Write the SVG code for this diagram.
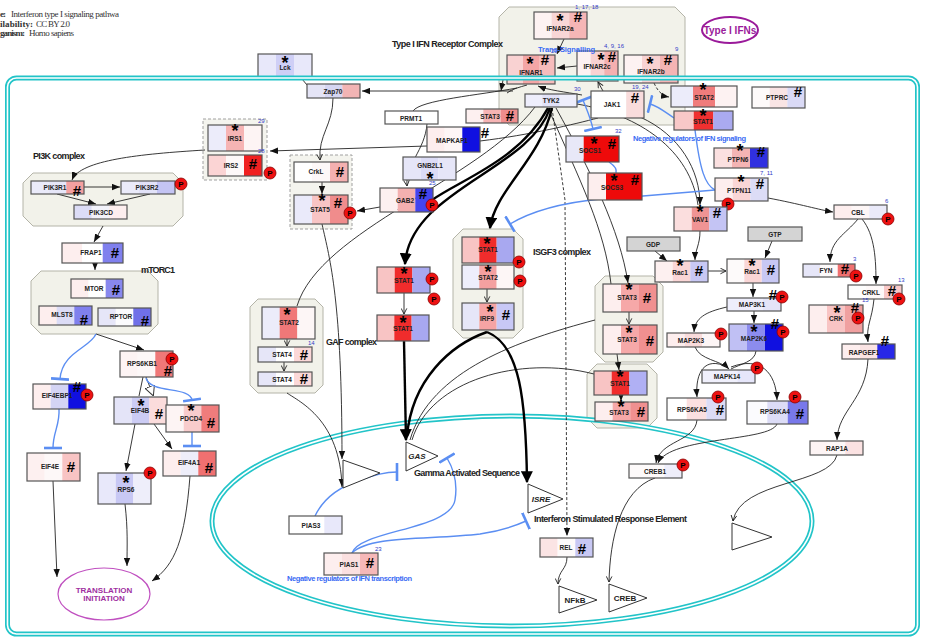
<svg xmlns="http://www.w3.org/2000/svg" width="925" height="637" viewBox="0 0 925 637">
<style>
.bx{fill:none;stroke:#555;stroke-width:1.2}
.lb{font:bold 6.5px "Liberation Sans",Arial,sans-serif;fill:#222;text-anchor:middle}
.st{font:bold 18px "Liberation Sans",Arial,sans-serif;fill:#000;text-anchor:middle}
.hs{font:bold 15px "Liberation Sans",Arial,sans-serif;fill:#000;text-anchor:middle}
.pc{fill:#ee1111;stroke:#880000;stroke-width:.8}
.pt{font:bold 8px "Liberation Sans",Arial,sans-serif;fill:#000;text-anchor:middle}
.nm{font:6px "Liberation Sans",Arial,sans-serif;fill:#3340c8}
.cx{fill:#f2f2ea;stroke:#b4b4a8;stroke-width:1}
.dg{fill:#f4f4ee;stroke:#a0a0a0;stroke-width:1;stroke-dasharray:3 2}
.ln{fill:none;stroke:#222;stroke-width:.9}
.dl{fill:none;stroke:#222;stroke-width:.9;stroke-dasharray:3 2}
.tk{fill:none;stroke:#000;stroke-width:2.4}
.bl{fill:none;stroke:#5b8ef2;stroke-width:1.4}
.mb{fill:none;stroke:#22c4c8;stroke-width:5}
.mw{fill:none;stroke:#fff;stroke-width:1.6}
.gl{font:bold 9px "Liberation Sans",Arial,sans-serif;fill:#222}
.bt{font:bold 7.5px "Liberation Sans",Arial,sans-serif;fill:#3a6cf4}
.hd{font:9px "Liberation Serif","Times New Roman",serif;fill:#333}
.hb{font:bold 9px "Liberation Serif","Times New Roman",serif;fill:#333}
.tri{fill:#fff;stroke:#333;stroke-width:1}
.tt{font:italic bold 8px "Liberation Sans",Arial,sans-serif;fill:#222;text-anchor:middle}
</style>
<defs>
<marker id="a" viewBox="0 0 10 8" refX="10" refY="4" markerWidth="8" markerHeight="7" orient="auto" markerUnits="userSpaceOnUse"><path d="M0,0 L10,4 L0,8z" fill="#111"/></marker>
<marker id="o" viewBox="0 0 10 10" refX="9" refY="5" markerWidth="7" markerHeight="7" orient="auto" markerUnits="userSpaceOnUse"><path d="M1,1 L9,5 L1,9" fill="none" stroke="#222" stroke-width="1.3"/></marker>
<marker id="A" viewBox="0 0 10 10" refX="9" refY="5" markerWidth="12" markerHeight="12" orient="auto" markerUnits="userSpaceOnUse"><path d="M0,0 L10,5 L0,10z" fill="#000"/></marker>
<marker id="h" viewBox="0 0 10 10" refX="9" refY="5" markerWidth="10" markerHeight="10" orient="auto" markerUnits="userSpaceOnUse"><path d="M0,0 L10,5 L0,10z" fill="#fff" stroke="#333" stroke-width="1"/></marker>
<marker id="t" viewBox="0 0 4 18" refX="2" refY="9" markerWidth="4" markerHeight="18" orient="auto" markerUnits="userSpaceOnUse"><path d="M2,0 V18" stroke="#5b8ef2" stroke-width="2.6"/></marker>
</defs>
<rect width="925" height="637" fill="#fff"/>

<g id="header">
<text class="hb" x="0" y="17" textLength="6">e:</text><text class="hd" x="11" y="17" textLength="108">Interferon type I signaling pathwa</text>
<text class="hb" x="0" y="27" textLength="33">ilability:</text><text class="hd" x="36" y="27" textLength="34">CC BY 2.0</text>
<text class="hb" x="0" y="36" textLength="25">ganism:</text><text class="hd" x="29" y="36" textLength="45">Homo sapiens</text>
</g>

<g id="complexes">
<polygon id="receptor-complex" class="cx" points="509,7 675,7 685,17 685,115 675,125 509,125 499,115 499,17"/>
<polygon id="pi3k-complex" class="cx" points="33,173 173,173 183,183 183,216 173,226 33,226 23,216 23,183"/>
<polygon id="mtorc1-complex" class="cx" points="41,271 148,271 158,281 158,324 148,334 41,334 31,324 31,281"/>
<polygon id="gaf-complex" class="cx" points="258,299 315,299 323,307 323,385 315,393 258,393 250,385 250,307"/>
<polygon id="isgf3-complex" class="cx" points="463,229 513,229 523,239 523,328 513,338 463,338 453,328 453,239"/>
<polygon id="stat3-complex" class="cx" points="605,276 653,276 663,286 663,352 653,362 605,362 595,352 595,286"/>
<polygon id="stat13-complex" class="cx" points="597,364 647,364 657,374 657,418 647,428 597,428 587,418 587,374"/>
<rect id="irs-group" class="dg" x="203" y="119" width="64" height="61"/>
<rect id="crkl-group" class="dg" x="290" y="155" width="62" height="74"/>
</g>

<g id="nucleus">
<ellipse class="mb" cx="512" cy="521" rx="300" ry="105"/>
<ellipse class="mw" cx="512" cy="521" rx="300" ry="105"/>
</g>

<g id="connectors">
<path class="ln" d="M302,79 L307,85"/>
<path class="ln" d="M513,91 L362,91" marker-end="url(#a)"/>
<path class="ln" d="M333,98 C333,125 318,135 320,160" marker-end="url(#o)"/>
<path class="ln" d="M322,182 L322,194" marker-end="url(#a)"/>
<path class="ln" d="M380,207 L357,211" marker-end="url(#a)"/>
<path class="ln" d="M427,146 L270,151" marker-end="url(#a)"/>
<path class="ln" d="M480,141 C530,135 575,124 598,118"/>
<path class="ln" d="M205,150 C140,154 80,160 72,180" marker-end="url(#a)"/>
<path class="ln" d="M84,187 L120,187" marker-end="url(#a)"/>
<path class="ln" d="M57,194 L96,204" marker-end="url(#a)"/>
<path class="ln" d="M150,194 L107,204" marker-end="url(#a)"/>
<path class="ln" d="M103,226 L94,242" marker-end="url(#a)"/>
<path class="ln" d="M95,263 L95,270" marker-end="url(#a)"/>
<path class="ln" d="M96,334 L144,350" marker-end="url(#a)"/>
<path class="ln" d="M143,377 L139,396"/>
<path class="ln" d="M146,377 L153,395" marker-end="url(#h)"/>
<path class="ln" d="M135,424 L126,471" marker-end="url(#a)"/>
<path class="ln" d="M154,424 L172,449" marker-end="url(#a)"/>
<path class="ln" d="M53,481 L57,577" marker-end="url(#a)"/>
<path class="ln" d="M125,504 C128,530 127,545 127,566" marker-end="url(#a)"/>
<path class="ln" d="M190,476 C185,540 175,565 152,581" marker-end="url(#a)"/>
<path class="ln" d="M582,95 C565,92 548,90 538,86" marker-end="url(#a)"/>
<path class="ln" d="M507,93 C512,89 520,87 527,85"/>
<path class="dl" d="M503,80 L501,91" marker-end="url(#a)"/>
<path class="ln" d="M577,66 L557,68" marker-end="url(#a)"/>
<path class="ln" d="M564,39 L557,54" marker-end="url(#a)"/>
<path class="ln" d="M603,91 L598,82" marker-end="url(#o)"/>
<path class="dl" d="M654,83 C658,92 663,96 669,97" marker-end="url(#a)"/>
<path class="ln" d="M517,88 C480,95 420,100 413,111"/>
<path class="ln" d="M427,124 C425,150 405,165 407,186" marker-end="url(#o)"/>
<path class="ln" d="M640,117 C680,135 700,170 700,205" marker-end="url(#a)"/>
<path class="ln" d="M577,104 C640,115 690,150 698,205"/>
<path class="ln" d="M768,198 C800,204 820,210 833,212" marker-end="url(#a)"/>
<path class="ln" d="M858,219 C845,235 830,240 830,262" marker-end="url(#a)"/>
<path class="ln" d="M862,219 C875,235 876,260 876,284" marker-end="url(#a)"/>
<path class="ln" d="M874,299 C872,320 866,325 868,342" marker-end="url(#a)"/>
<path class="ln" d="M868,359 C866,400 838,410 837,440" marker-end="url(#a)"/>
<path class="ln" d="M837,455 C830,485 740,480 733,521" marker-end="url(#o)"/>
<path class="ln" d="M700,231 C700,245 695,250 695,260" marker-end="url(#a)"/>
<path class="ln" d="M655,251 L667,261" marker-end="url(#a)"/>
<path class="ln" d="M772,241 L765,258" marker-end="url(#a)"/>
<path class="ln" d="M708,271 L726,271" marker-end="url(#o)"/>
<path class="ln" d="M753,283 L753,297" marker-end="url(#a)"/>
<path class="ln" d="M727,307 C705,312 695,318 694,332" marker-end="url(#a)"/>
<path class="ln" d="M754,311 L754,323" marker-end="url(#a)"/>
<path class="ln" d="M695,347 C700,360 720,360 729,369" marker-end="url(#a)"/>
<path class="ln" d="M756,351 C755,362 740,364 731,369"/>
<path class="ln" d="M727,367 C705,356 695,372 697,397" marker-end="url(#a)"/>
<path class="ln" d="M731,367 C760,356 776,372 777,400" marker-end="url(#a)"/>
<path class="ln" d="M697,420 C695,442 660,440 656,463" marker-end="url(#a)"/>
<path class="ln" d="M777,424 C770,442 670,436 658,463" marker-end="url(#a)"/>
<path class="ln" d="M655,478 C620,490 610,540 609,582" marker-end="url(#o)"/>
<path class="ln" d="M567,557 C567,570 558,570 558,584" marker-end="url(#o)"/>
<path class="dl" d="M552,108 L565,200 L567,536" marker-end="url(#a)"/>
<path class="ln" d="M404,293 L404,314" marker-end="url(#o)"/>
<path class="ln" d="M487,289 L487,302" marker-end="url(#o)"/>
<path class="ln" d="M287,339 L287,346" marker-end="url(#o)"/>
<path class="ln" d="M284,362 L284,371" marker-end="url(#o)"/>
<path class="ln" d="M629,312 L629,324" marker-end="url(#o)"/>
<path class="ln" d="M617,354 L619,370" marker-end="url(#a)"/>
<path class="ln" d="M621,395 L621,401" marker-end="url(#a)"/>
<path class="ln" d="M556,108 C590,170 620,230 628,283" marker-end="url(#a)"/>
<path class="ln" d="M548,108 C580,180 605,230 611,284"/>
<path class="ln" d="M595,320 C520,340 430,370 410,440"/>
<path class="ln" d="M594,374 C520,355 430,380 412,440"/>
<path class="ln" d="M535,107 C480,180 320,230 297,306"/>
<path class="ln" d="M322,224 C330,260 342,300 342,459" marker-end="url(#a)"/>
<path class="ln" d="M287,393 C300,402 340,420 342,487" marker-end="url(#a)"/>
<path class="tk" d="M404,341 L406,440" marker-end="url(#A)"/>
<path class="tk" d="M487,332 C450,345 412,380 407,436"/>
<path class="tk" d="M487,332 C520,345 526,400 527,482" marker-end="url(#A)"/>
<path class="tk" d="M550,108 C530,170 410,190 405,264" marker-end="url(#A)"/>
<path class="tk" d="M552,108 C540,160 495,190 490,228" marker-end="url(#A)"/>
<path class="tk" d="M548,108 C520,160 460,180 432,200"/>
<path class="bl" d="M96,334 C90,348 62,352 60,379" marker-end="url(#t)"/>
<path class="bl" d="M59,409 C60,425 53,432 53,448" marker-end="url(#t)"/>
<path class="bl" d="M146,378 C150,394 190,386 192,400" marker-end="url(#t)"/>
<path class="bl" d="M192,432 L192,446" marker-end="url(#t)"/>
<path class="bl" d="M674,118 C665,112 658,106 650,104" marker-end="url(#t)"/>
<path class="bl" d="M593,129 C590,116 586,108 583,100" marker-start="url(#t)" marker-end="url(#t)"/>
<path class="bl" d="M609,162 C615,166 617,170 616,173"/>
<path class="bl" d="M695,130 C700,170 705,185 715,190"/>
<path class="bl" d="M715,190 L643,196 L600,199 C560,203 530,212 510,224" marker-end="url(#t)"/>
<path class="bl" d="M315,516 C325,495 345,485 360,480 C375,475 385,472 397,472" marker-end="url(#t)"/>
<path class="bl" d="M352,553 C360,530 450,530 455,500 C458,482 453,468 447,458" marker-end="url(#t)"/>
<path class="bl" d="M352,553 C370,535 430,540 480,534 C500,531 515,526 526,521" marker-end="url(#t)"/>
</g>

<g id="nodes">
<g id="Lck"><rect x="258" y="54" width="18" height="25" fill="#e8e8fa"/><rect x="276" y="54" width="18" height="25" fill="#cfcff6"/><rect x="294" y="54" width="18" height="25" fill="#e8e8fa"/><rect class="bx" x="258" y="54" width="54" height="25"/><text class="lb" x="285" y="70">Lck</text><text class="st" x="285" y="69">*</text></g>
<g id="Zap70"><rect x="307" y="84" width="17.7" height="14" fill="#e4e4f6"/><rect x="324.7" y="84" width="17.7" height="14" fill="#d6d6f2"/><rect x="342.3" y="84" width="17.7" height="14" fill="#f2b4b4"/><rect class="bx" x="307" y="84" width="53" height="14"/><text class="lb" x="333" y="93.5">Zap70</text></g>
<g id="IFNAR2a"><rect x="534" y="12" width="17.7" height="27" fill="#fdf2f2"/><rect x="551.7" y="12" width="17.7" height="27" fill="#f9d6d6"/><rect x="569.3" y="12" width="17.7" height="27" fill="#f6b6b6"/><rect class="bx" x="534" y="12" width="53" height="27"/><text class="lb" x="560" y="31">IFNAR2a</text><text class="st" x="560" y="27">*</text><text class="hs" x="578" y="22">#</text><text class="nm" x="575" y="9">1, 17, 18</text></g>
<g id="IFNAR1"><rect x="507" y="55" width="16" height="29" fill="#f9d2d2"/><rect x="523" y="55" width="16" height="29" fill="#f4a6a6"/><rect x="539" y="55" width="16" height="29" fill="#f6bcbc"/><rect class="bx" x="507" y="55" width="48" height="29"/><text class="lb" x="531" y="75">IFNAR1</text><text class="st" x="530" y="70">*</text><text class="hs" x="545" y="65">#</text><text class="nm" x="551" y="53">20</text></g>
<g id="IFNAR2c"><rect x="577" y="51" width="13.7" height="30" fill="#fdf2f2"/><rect x="590.7" y="51" width="13.7" height="30" fill="#f8d2d2"/><rect x="604.3" y="51" width="13.7" height="30" fill="#f4b0b0"/><rect class="bx" x="577" y="51" width="41" height="30"/><text class="lb" x="597" y="69">IFNAR2c</text><text class="st" x="601" y="66">*</text><text class="hs" x="612" y="62">#</text><text class="nm" x="604" y="48">4, 9, 16</text></g>
<g id="IFNAR2b"><rect x="624" y="55" width="18" height="28" fill="#fdf2f2"/><rect x="642" y="55" width="18" height="28" fill="#f8d2d2"/><rect x="660" y="55" width="18" height="28" fill="#f4b4b4"/><rect class="bx" x="624" y="55" width="54" height="28"/><text class="lb" x="651" y="74">IFNAR2b</text><text class="st" x="650" y="70">*</text><text class="hs" x="668" y="65">#</text><text class="nm" x="675" y="51">9</text></g>
<g id="TYK2"><rect x="525" y="94" width="17.3" height="13" fill="#eeeefc"/><rect x="542.3" y="94" width="17.3" height="13" fill="#e2e2f8"/><rect x="559.7" y="94" width="17.3" height="13" fill="#eeeefc"/><rect class="bx" x="525" y="94" width="52" height="13"/><text class="lb" x="551" y="103">TYK2</text><text class="nm" x="574" y="91">30</text></g>
<g id="JAK1"><rect x="591" y="91" width="35.3" height="27" fill="#fff"/><rect x="626.3" y="91" width="17.7" height="27" fill="#f9dcdc"/><rect class="bx" x="591" y="91" width="53" height="27"/><text class="lb" x="612" y="107">JAK1</text><text class="hs" x="635" y="103">#</text><text class="nm" x="632" y="89">19, 24</text></g>
<g id="STAT2-tr"><rect x="671" y="86" width="22" height="21" fill="#ececfa"/><rect x="693" y="86" width="22" height="21" fill="#f07c7c"/><rect x="715" y="86" width="22" height="21" fill="#fdf2f2"/><rect class="bx" x="671" y="86" width="66" height="21"/><text class="lb" x="704" y="100">STAT2</text><text class="st" x="703" y="96">*</text></g>
<g id="STAT1-tr"><rect x="674" y="111" width="19.7" height="19" fill="#f8c8c8"/><rect x="693.7" y="111" width="19.7" height="19" fill="#f03030"/><rect x="713.3" y="111" width="19.7" height="19" fill="#aaaaf0"/><rect class="bx" x="674" y="111" width="59" height="19"/><text class="lb" x="703" y="124">STAT1</text><text class="st" x="703" y="122">*</text></g>
<g id="PTPRC"><rect x="752" y="87" width="17.7" height="21" fill="#fdfafa"/><rect x="769.7" y="87" width="17.7" height="21" fill="#f9e4e4"/><rect x="787.3" y="87" width="17.7" height="21" fill="#dadaf6"/><rect class="bx" x="752" y="87" width="53" height="21"/><text class="lb" x="777" y="100">PTPRC</text><text class="hs" x="798" y="97">#</text></g>
<g id="PRMT1"><rect x="385" y="111" width="53" height="13" fill="#fff"/><rect class="bx" x="385" y="111" width="53" height="13"/><text class="lb" x="411" y="120.5">PRMT1</text></g>
<g id="STAT3-top"><rect x="466" y="109" width="17.3" height="14" fill="#fdf0f0"/><rect x="483.3" y="109" width="17.3" height="14" fill="#f6b4b4"/><rect x="500.7" y="109" width="17.3" height="14" fill="#f08c8c"/><rect class="bx" x="466" y="109" width="52" height="14"/><text class="lb" x="490" y="119">STAT3</text><text class="hs" x="510" y="121">#</text></g>
<g id="MAPKAP1"><rect x="427" y="127" width="17.7" height="25" fill="#fdeeee"/><rect x="444.7" y="127" width="17.7" height="25" fill="#fdf6f6"/><rect x="462.3" y="127" width="17.7" height="25" fill="#1010e0"/><rect class="bx" x="427" y="127" width="53" height="25"/><text class="lb" x="452" y="143">MAPKAP1</text><text class="hs" x="485" y="138">#</text></g>
<g id="GNB2L1"><rect x="403" y="157" width="17.7" height="23" fill="#e6e6f8"/><rect x="420.7" y="157" width="17.7" height="23" fill="#dcdcf6"/><rect x="438.3" y="157" width="17.7" height="23" fill="#e6e6f8"/><rect class="bx" x="403" y="157" width="53" height="23"/><text class="lb" x="430" y="168">GNB2L1</text><text class="st" x="430" y="185">*</text></g>
<g id="GAB2"><rect x="380" y="188" width="17.7" height="24" fill="#fdf0f0"/><rect x="397.7" y="188" width="17.7" height="24" fill="#f4b0b0"/><rect x="415.3" y="188" width="17.7" height="24" fill="#4444ee"/><rect class="bx" x="380" y="188" width="53" height="24"/><text class="lb" x="405" y="203">GAB2</text><text class="hs" x="423" y="199">#</text><text class="nm" x="429" y="185">25</text><circle class="pc" cx="432" cy="205" r="6"/><text class="pt" x="432" y="208">P</text></g>
<g id="SOCS1"><rect x="566" y="136" width="17.7" height="26" fill="#e8e8f8"/><rect x="583.7" y="136" width="35.3" height="26" fill="#ee0a0a"/><rect class="bx" x="566" y="136" width="53" height="26"/><text class="lb" x="590" y="153">SOCS1</text><text class="st" x="594" y="150">*</text><text class="hs" x="612" y="149">#</text><text class="nm" x="615" y="133">32</text></g>
<g id="SOCS3"><rect x="588" y="173" width="18" height="27" fill="#fdeeee"/><rect x="606" y="173" width="36" height="27" fill="#ee0a0a"/><rect class="bx" x="588" y="173" width="54" height="27"/><text class="lb" x="612" y="190">SOCS3</text><text class="st" x="614" y="187">*</text><text class="hs" x="635" y="185">#</text></g>
<g id="PTPN6"><rect x="714" y="148" width="18" height="20" fill="#fbe0e0"/><rect x="732" y="148" width="18" height="20" fill="#f4b4b4"/><rect x="750" y="148" width="18" height="20" fill="#3030e0"/><rect class="bx" x="714" y="148" width="54" height="20"/><text class="lb" x="738" y="162">PTPN6</text><text class="st" x="740" y="157">*</text><text class="hs" x="761" y="157">#</text></g>
<g id="PTPN11"><rect x="715" y="178" width="17.7" height="23" fill="#fdeeee"/><rect x="732.7" y="178" width="17.7" height="23" fill="#f9d6d6"/><rect x="750.3" y="178" width="17.7" height="23" fill="#dcdcf6"/><rect class="bx" x="715" y="178" width="53" height="23"/><text class="lb" x="739" y="193">PTPN11</text><text class="st" x="741" y="188">*</text><text class="hs" x="760" y="189">#</text><text class="nm" x="760" y="175">7, 11</text><circle class="pc" cx="728" cy="204" r="6"/><text class="pt" x="728" y="207">P</text></g>
<g id="VAV1"><rect x="674" y="207" width="17.7" height="24" fill="#fbdede"/><rect x="691.7" y="207" width="17.7" height="24" fill="#f09494"/><rect x="709.3" y="207" width="17.7" height="24" fill="#c4c4f4"/><rect class="bx" x="674" y="207" width="53" height="24"/><text class="lb" x="700" y="222">VAV1</text><text class="st" x="700" y="218">*</text><text class="hs" x="717" y="218">#</text></g>
<g id="CBL"><rect x="834" y="205" width="17.7" height="14" fill="#fdeeee"/><rect x="851.7" y="205" width="17.7" height="14" fill="#fdf6f6"/><rect x="869.3" y="205" width="17.7" height="14" fill="#eaeafa"/><rect class="bx" x="834" y="205" width="53" height="14"/><text class="lb" x="858" y="214.5">CBL</text><text class="nm" x="885" y="203">6</text><circle class="pc" cx="888" cy="219" r="6"/><text class="pt" x="888" y="222">P</text></g>
<g id="IRS1"><rect x="208" y="125" width="18" height="26" fill="#ececfa"/><rect x="226" y="125" width="18" height="26" fill="#f6b4b4"/><rect x="244" y="125" width="18" height="26" fill="#fdf4f4"/><rect class="bx" x="208" y="125" width="54" height="26"/><text class="lb" x="235" y="141">IRS1</text><text class="st" x="235" y="137">*</text><text class="nm" x="258" y="123">29</text></g>
<g id="IRS2"><rect x="208" y="155" width="18" height="21" fill="#fbd4d4"/><rect x="226" y="155" width="18" height="21" fill="#fdf8f8"/><rect x="244" y="155" width="18" height="21" fill="#f02020"/><rect class="bx" x="208" y="155" width="54" height="21"/><text class="lb" x="231" y="168">IRS2</text><text class="hs" x="253" y="169">#</text><text class="nm" x="258" y="153">28</text><circle class="pc" cx="270" cy="173" r="6"/><text class="pt" x="270" y="176">P</text></g>
<g id="PIK3R1"><rect x="31" y="181" width="17.7" height="13" fill="#eaeafa"/><rect x="48.7" y="181" width="17.7" height="13" fill="#e6e6f8"/><rect x="66.3" y="181" width="17.7" height="13" fill="#f4a0a0"/><rect class="bx" x="31" y="181" width="53" height="13"/><text class="lb" x="55" y="190">PIK3R1</text><text class="hs" x="77" y="196">#</text></g>
<g id="PIK3R2"><rect x="121" y="181" width="18" height="13" fill="#eaeafa"/><rect x="139" y="181" width="18" height="13" fill="#e2e2f8"/><rect x="157" y="181" width="18" height="13" fill="#c4c4f4"/><rect class="bx" x="121" y="181" width="54" height="13"/><text class="lb" x="147" y="190">PIK3R2</text><circle class="pc" cx="181" cy="184" r="6"/><text class="pt" x="181" y="187">P</text></g>
<g id="PIK3CD"><rect x="74" y="205" width="17.7" height="14" fill="#dcdcf6"/><rect x="91.7" y="205" width="17.7" height="14" fill="#f2f2fa"/><rect x="109.3" y="205" width="17.7" height="14" fill="#fdeeee"/><rect class="bx" x="74" y="205" width="53" height="14"/><text class="lb" x="101" y="214.5">PIK3CD</text></g>
<g id="FRAP1"><rect x="62" y="243" width="20.3" height="20" fill="#fdeeee"/><rect x="82.3" y="243" width="20.3" height="20" fill="#fff"/><rect x="102.7" y="243" width="20.3" height="20" fill="#8080ee"/><rect class="bx" x="62" y="243" width="61" height="20"/><text class="lb" x="91" y="255">FRAP1</text><text class="hs" x="115" y="258">#</text></g>
<g id="MTOR"><rect x="71" y="279" width="17.3" height="19" fill="#fdeeee"/><rect x="88.3" y="279" width="17.3" height="19" fill="#fff"/><rect x="105.7" y="279" width="17.3" height="19" fill="#8888ee"/><rect class="bx" x="71" y="279" width="52" height="19"/><text class="lb" x="94" y="291">MTOR</text><text class="hs" x="116" y="295">#</text></g>
<g id="MLST8"><rect x="39" y="306" width="17.7" height="19" fill="#fdeeee"/><rect x="56.7" y="306" width="17.7" height="19" fill="#dcdcf6"/><rect x="74.3" y="306" width="17.7" height="19" fill="#8080ee"/><rect class="bx" x="39" y="306" width="53" height="19"/><text class="lb" x="62" y="317">MLST8</text><text class="hs" x="84" y="325">#</text></g>
<g id="RPTOR"><rect x="98" y="308" width="17.7" height="18" fill="#e6e6f8"/><rect x="115.7" y="308" width="17.7" height="18" fill="#fbfbfd"/><rect x="133.3" y="308" width="17.7" height="18" fill="#7070e8"/><rect class="bx" x="98" y="308" width="53" height="18"/><text class="lb" x="121" y="319">RPTOR</text><text class="hs" x="145" y="326">#</text></g>
<g id="RPS6KB1"><rect x="120" y="351" width="17.7" height="26" fill="#fdf4f4"/><rect x="137.7" y="351" width="17.7" height="26" fill="#fdf8f8"/><rect x="155.3" y="351" width="17.7" height="26" fill="#f07878"/><rect class="bx" x="120" y="351" width="53" height="26"/><text class="lb" x="142" y="366">RPS6KB1</text><text class="hs" x="168" y="376">#</text><circle class="pc" cx="172" cy="359" r="6"/><text class="pt" x="172" y="362">P</text></g>
<g id="EIF4EBP1"><rect x="33" y="384" width="17.7" height="25" fill="#fdeeee"/><rect x="50.7" y="384" width="17.7" height="25" fill="#d4d4f4"/><rect x="68.3" y="384" width="17.7" height="25" fill="#1010e0"/><rect class="bx" x="33" y="384" width="53" height="25"/><text class="lb" x="57" y="398">EIF4EBP1</text><text class="hs" x="77" y="392">#</text><circle class="pc" cx="87" cy="395" r="6"/><text class="pt" x="87" y="398">P</text></g>
<g id="EIF4B"><rect x="114" y="397" width="17.7" height="27" fill="#e4e4f8"/><rect x="131.7" y="397" width="17.7" height="27" fill="#ccccf4"/><rect x="149.3" y="397" width="17.7" height="27" fill="#fbdcdc"/><rect class="bx" x="114" y="397" width="53" height="27"/><text class="lb" x="140" y="413">EIF4B</text><text class="st" x="141" y="412">*</text><text class="hs" x="159" y="419">#</text></g>
<g id="PDCD4"><rect x="166" y="405" width="17.7" height="27" fill="#fdf4f4"/><rect x="183.7" y="405" width="17.7" height="27" fill="#f8cccc"/><rect x="201.3" y="405" width="17.7" height="27" fill="#f07c7c"/><rect class="bx" x="166" y="405" width="53" height="27"/><text class="lb" x="191" y="421">PDCD4</text><text class="st" x="191" y="417">*</text><text class="hs" x="211" y="428">#</text></g>
<g id="EIF4A1"><rect x="163" y="451" width="17.7" height="25" fill="#fdeeee"/><rect x="180.7" y="451" width="17.7" height="25" fill="#eeeefa"/><rect x="198.3" y="451" width="17.7" height="25" fill="#f07070"/><rect class="bx" x="163" y="451" width="53" height="25"/><text class="lb" x="189" y="465">EIF4A1</text><text class="hs" x="209" y="473">#</text></g>
<g id="EIF4E"><rect x="27" y="453" width="17.7" height="28" fill="#fdf0f0"/><rect x="44.7" y="453" width="17.7" height="28" fill="#fdf8f8"/><rect x="62.3" y="453" width="17.7" height="28" fill="#f8c4c4"/><rect class="bx" x="27" y="453" width="53" height="28"/><text class="lb" x="50" y="469">EIF4E</text><text class="hs" x="71" y="472">#</text></g>
<g id="RPS6"><rect x="98" y="473" width="17.7" height="31" fill="#e8e8fa"/><rect x="115.7" y="473" width="17.7" height="31" fill="#c8c8f4"/><rect x="133.3" y="473" width="17.7" height="31" fill="#eeeefa"/><rect class="bx" x="98" y="473" width="53" height="31"/><text class="lb" x="126" y="492">RPS6</text><text class="st" x="126" y="489">*</text><circle class="pc" cx="150" cy="473" r="6"/><text class="pt" x="150" y="476">P</text></g>
<g id="CrkL"><rect x="294" y="162" width="18" height="20" fill="#fff"/><rect x="312" y="162" width="18" height="20" fill="#fdf8f8"/><rect x="330" y="162" width="18" height="20" fill="#f4b0b0"/><rect class="bx" x="294" y="162" width="54" height="20"/><text class="lb" x="316" y="174">CrkL</text><text class="hs" x="340" y="177">#</text></g>
<g id="STAT5"><rect x="294" y="195" width="18" height="29" fill="#eaeafa"/><rect x="312" y="195" width="18" height="29" fill="#f8c4c4"/><rect x="330" y="195" width="18" height="29" fill="#f08c8c"/><rect class="bx" x="294" y="195" width="54" height="29"/><text class="lb" x="320" y="212">STAT5</text><text class="st" x="322" y="207">*</text><text class="hs" x="338" y="208">#</text><circle class="pc" cx="350" cy="213" r="6"/><text class="pt" x="350" y="216">P</text></g>
<g id="STAT2-gaf"><rect x="262" y="307" width="17.7" height="32" fill="#ececfa"/><rect x="279.7" y="307" width="17.7" height="32" fill="#f07878"/><rect x="297.3" y="307" width="17.7" height="32" fill="#fdf6f6"/><rect class="bx" x="262" y="307" width="53" height="32"/><text class="lb" x="289" y="325">STAT2</text><text class="st" x="287" y="321">*</text></g>
<g id="STAT4-a"><rect x="258" y="347" width="18" height="15" fill="#e6e6f8"/><rect x="276" y="347" width="18" height="15" fill="#fff"/><rect x="294" y="347" width="18" height="15" fill="#fbd8d8"/><rect class="bx" x="258" y="347" width="54" height="15"/><text class="lb" x="282" y="357">STAT4</text><text class="hs" x="304" y="360">#</text><text class="nm" x="308" y="345">14</text></g>
<g id="STAT4-b"><rect x="258" y="372" width="18" height="14" fill="#e6e6f8"/><rect x="276" y="372" width="18" height="14" fill="#fff"/><rect x="294" y="372" width="18" height="14" fill="#fbd8d8"/><rect class="bx" x="258" y="372" width="54" height="14"/><text class="lb" x="282" y="381.5">STAT4</text><text class="hs" x="304" y="384">#</text></g>
<g id="STAT1-a"><rect x="377" y="267" width="17.7" height="26" fill="#f8c4c4"/><rect x="394.7" y="267" width="17.7" height="26" fill="#f02c2c"/><rect x="412.3" y="267" width="17.7" height="26" fill="#a8a8f0"/><rect class="bx" x="377" y="267" width="53" height="26"/><text class="lb" x="404" y="283">STAT1</text><text class="st" x="404" y="280">*</text><circle class="pc" cx="432" cy="279" r="6"/><text class="pt" x="432" y="282">P</text><circle class="pc" cx="434" cy="299" r="6"/><text class="pt" x="434" y="302">P</text></g>
<g id="STAT1-b"><rect x="377" y="315" width="17.3" height="26" fill="#f8c4c4"/><rect x="394.3" y="315" width="17.3" height="26" fill="#f02c2c"/><rect x="411.7" y="315" width="17.3" height="26" fill="#a8a8f0"/><rect class="bx" x="377" y="315" width="52" height="26"/><text class="lb" x="403" y="331">STAT1</text><text class="st" x="403" y="329">*</text></g>
<g id="STAT1-isgf3"><rect x="462" y="237" width="17.3" height="26" fill="#f8c4c4"/><rect x="479.3" y="237" width="17.3" height="26" fill="#f02c2c"/><rect x="496.7" y="237" width="17.3" height="26" fill="#a8a8f0"/><rect class="bx" x="462" y="237" width="52" height="26"/><text class="lb" x="488" y="252">STAT1</text><text class="st" x="487" y="250">*</text><circle class="pc" cx="519" cy="262" r="6"/><text class="pt" x="519" y="265">P</text></g>
<g id="STAT2-isgf3"><rect x="462" y="265" width="17.3" height="24" fill="#eeeefc"/><rect x="479.3" y="265" width="17.3" height="24" fill="#f4a0a0"/><rect x="496.7" y="265" width="17.3" height="24" fill="#fdf6f6"/><rect class="bx" x="462" y="265" width="52" height="24"/><text class="lb" x="488" y="280">STAT2</text><text class="st" x="488" y="278">*</text><circle class="pc" cx="520" cy="281" r="6"/><text class="pt" x="520" y="284">P</text></g>
<g id="IRF9"><rect x="462" y="303" width="17.3" height="27" fill="#e6e6f8"/><rect x="479.3" y="303" width="17.3" height="27" fill="#f6a4a4"/><rect x="496.7" y="303" width="17.3" height="27" fill="#c8c8f6"/><rect class="bx" x="462" y="303" width="52" height="27"/><text class="lb" x="487" y="321">IRF9</text><text class="st" x="490" y="318">*</text><text class="hs" x="506" y="320">#</text></g>
<g id="STAT3-a"><rect x="603" y="284" width="18" height="28" fill="#fdeeee"/><rect x="621" y="284" width="18" height="28" fill="#f6a8a8"/><rect x="639" y="284" width="18" height="28" fill="#f09090"/><rect class="bx" x="603" y="284" width="54" height="28"/><text class="lb" x="627" y="300">STAT3</text><text class="st" x="629" y="296">*</text><text class="hs" x="647" y="303">#</text></g>
<g id="STAT3-b"><rect x="603" y="325" width="18" height="29" fill="#fdeeee"/><rect x="621" y="325" width="18" height="29" fill="#f6a8a8"/><rect x="639" y="325" width="18" height="29" fill="#f09090"/><rect class="bx" x="603" y="325" width="54" height="29"/><text class="lb" x="627" y="342">STAT3</text><text class="st" x="629" y="339">*</text><text class="hs" x="650" y="346">#</text></g>
<g id="STAT1-c"><rect x="594" y="371" width="17.7" height="24" fill="#f8c4c4"/><rect x="611.7" y="371" width="17.7" height="24" fill="#f02c2c"/><rect x="629.3" y="371" width="17.7" height="24" fill="#b0b0f4"/><rect class="bx" x="594" y="371" width="53" height="24"/><text class="lb" x="620" y="386">STAT1</text><text class="st" x="620" y="383">*</text></g>
<g id="STAT3-c"><rect x="595" y="402" width="17.7" height="19" fill="#fdeeee"/><rect x="612.7" y="402" width="17.7" height="19" fill="#f6a8a8"/><rect x="630.3" y="402" width="17.7" height="19" fill="#f09090"/><rect class="bx" x="595" y="402" width="53" height="19"/><text class="lb" x="619" y="415">STAT3</text><text class="st" x="621" y="413">*</text><text class="hs" x="641" y="417">#</text></g>
<g id="GDP"><rect x="627" y="237" width="53" height="14" fill="#d4d4d4"/><rect class="bx" x="627" y="237" width="53" height="14"/><text class="lb" x="653" y="246.5">GDP</text></g>
<g id="GTP"><rect x="748" y="227" width="54" height="14" fill="#d4d4d4"/><rect class="bx" x="748" y="227" width="54" height="14"/><text class="lb" x="775" y="236.5">GTP</text></g>
<g id="Rac1-a"><rect x="655" y="261" width="17.7" height="21" fill="#fdf0f0"/><rect x="672.7" y="261" width="17.7" height="21" fill="#fad6d6"/><rect x="690.3" y="261" width="17.7" height="21" fill="#c8c8f4"/><rect class="bx" x="655" y="261" width="53" height="21"/><text class="lb" x="680" y="275">Rac1</text><text class="st" x="680" y="272">*</text><text class="hs" x="699" y="276">#</text></g>
<g id="Rac1-b"><rect x="727" y="259" width="17.3" height="24" fill="#fdfafa"/><rect x="744.3" y="259" width="17.3" height="24" fill="#fad6d6"/><rect x="761.7" y="259" width="17.3" height="24" fill="#c8c8f4"/><rect class="bx" x="727" y="259" width="52" height="24"/><text class="lb" x="752" y="274">Rac1</text><text class="st" x="752" y="272">*</text><text class="hs" x="771" y="275">#</text></g>
<g id="MAP3K1"><rect x="727" y="298" width="36" height="13" fill="#eeeefc"/><rect x="763" y="298" width="18" height="13" fill="#e4e4f8"/><rect class="bx" x="727" y="298" width="54" height="13"/><text class="lb" x="752" y="307">MAP3K1</text><text class="hs" x="773" y="300">#</text><circle class="pc" cx="782" cy="297" r="6"/><text class="pt" x="782" y="300">P</text></g>
<g id="MAP2K3"><rect x="667" y="333" width="17.7" height="14" fill="#fdeeee"/><rect x="684.7" y="333" width="17.7" height="14" fill="#f9dcdc"/><rect x="702.3" y="333" width="17.7" height="14" fill="#fdf6f6"/><rect class="bx" x="667" y="333" width="53" height="14"/><text class="lb" x="691" y="342.5">MAP2K3</text><circle class="pc" cx="721" cy="334" r="6"/><text class="pt" x="721" y="337">P</text></g>
<g id="MAP2K6"><rect x="729" y="324" width="18" height="27" fill="#c0c0f4"/><rect x="747" y="324" width="18" height="27" fill="#8c8cee"/><rect x="765" y="324" width="18" height="27" fill="#1010e0"/><rect class="bx" x="729" y="324" width="54" height="27"/><text class="lb" x="754" y="341">MAP2K6</text><text class="st" x="754" y="338">*</text><text class="hs" x="775" y="329">#</text><circle class="pc" cx="783" cy="332" r="6"/><text class="pt" x="783" y="335">P</text></g>
<g id="MAPK14"><rect x="702" y="370" width="35.3" height="13" fill="#f0f0fc"/><rect x="737.3" y="370" width="17.7" height="13" fill="#e6e6fa"/><rect class="bx" x="702" y="370" width="53" height="13"/><text class="lb" x="727" y="379">MAPK14</text><circle class="pc" cx="757" cy="368" r="6"/><text class="pt" x="757" y="371">P</text></g>
<g id="RPS6KA5"><rect x="667" y="398" width="19.7" height="22" fill="#fff"/><rect x="686.7" y="398" width="19.7" height="22" fill="#fbe0e0"/><rect x="706.3" y="398" width="19.7" height="22" fill="#dcdcf6"/><rect class="bx" x="667" y="398" width="59" height="22"/><text class="lb" x="692" y="412">RPS6KA5</text><text class="hs" x="720" y="415">#</text><circle class="pc" cx="718" cy="397" r="6"/><text class="pt" x="718" y="400">P</text></g>
<g id="RPS6KA4"><rect x="747" y="401" width="20.3" height="23" fill="#fbfbfe"/><rect x="767.3" y="401" width="20.3" height="23" fill="#dcdcf6"/><rect x="787.7" y="401" width="20.3" height="23" fill="#7878ea"/><rect class="bx" x="747" y="401" width="61" height="23"/><text class="lb" x="775" y="414">RPS6KA4</text><text class="hs" x="800" y="419">#</text><circle class="pc" cx="795" cy="397" r="6"/><text class="pt" x="795" y="400">P</text></g>
<g id="FYN"><rect x="803" y="264" width="17.3" height="13" fill="#e6e6f8"/><rect x="820.3" y="264" width="17.3" height="13" fill="#fdfafa"/><rect x="837.7" y="264" width="17.3" height="13" fill="#f07070"/><rect class="bx" x="803" y="264" width="52" height="13"/><text class="lb" x="826" y="273">FYN</text><text class="hs" x="845" y="274">#</text><text class="nm" x="853" y="261">3</text><circle class="pc" cx="856" cy="276" r="6"/><text class="pt" x="856" y="279">P</text></g>
<g id="CRKL"><rect x="848" y="285" width="18" height="14" fill="#fdfdfd"/><rect x="866" y="285" width="18" height="14" fill="#fdf8f8"/><rect x="884" y="285" width="18" height="14" fill="#f8c8c8"/><rect class="bx" x="848" y="285" width="54" height="14"/><text class="lb" x="871" y="294.5">CRKL</text><text class="hs" x="892" y="296">#</text><text class="nm" x="898" y="282">13</text><circle class="pc" cx="899" cy="299" r="6"/><text class="pt" x="899" y="302">P</text></g>
<g id="CRK"><rect x="809" y="305" width="18" height="28" fill="#fdeeee"/><rect x="827" y="305" width="18" height="28" fill="#f8c4c4"/><rect x="845" y="305" width="18" height="28" fill="#f0a0a0"/><rect class="bx" x="809" y="305" width="54" height="28"/><text class="lb" x="836" y="321">CRK</text><text class="st" x="837" y="319">*</text><text class="hs" x="855" y="313">#</text><text class="nm" x="862" y="302">15</text><circle class="pc" cx="858" cy="318" r="6"/><text class="pt" x="858" y="321">P</text></g>
<g id="RAPGEF1"><rect x="842" y="344" width="17.7" height="15" fill="#fdeeee"/><rect x="859.7" y="344" width="17.7" height="15" fill="#fbe4e4"/><rect x="877.3" y="344" width="17.7" height="15" fill="#2828e8"/><rect class="bx" x="842" y="344" width="53" height="15"/><text class="lb" x="864" y="354.5">RAPGEF1</text><text class="hs" x="885" y="346">#</text></g>
<g id="RAP1A"><rect x="810" y="441" width="17.7" height="14" fill="#fdf4f4"/><rect x="827.7" y="441" width="17.7" height="14" fill="#fdf8f8"/><rect x="845.3" y="441" width="17.7" height="14" fill="#fbe2e2"/><rect class="bx" x="810" y="441" width="53" height="14"/><text class="lb" x="837" y="450.5">RAP1A</text></g>
<g id="CREB1"><rect x="629" y="464" width="35.3" height="14" fill="#fdfafa"/><rect x="664.3" y="464" width="17.7" height="14" fill="#eeeefa"/><rect class="bx" x="629" y="464" width="53" height="14"/><text class="lb" x="655" y="473.5">CREB1</text><circle class="pc" cx="683" cy="465" r="6"/><text class="pt" x="683" y="468">P</text></g>
<g id="REL"><rect x="540" y="538" width="17.7" height="19" fill="#fbe4e4"/><rect x="557.7" y="538" width="17.7" height="19" fill="#fdfafa"/><rect x="575.3" y="538" width="17.7" height="19" fill="#c8c8f4"/><rect class="bx" x="540" y="538" width="53" height="19"/><text class="lb" x="566" y="549.5">REL</text><text class="hs" x="582" y="554">#</text></g>
<g id="PIAS3"><rect x="289" y="516" width="35.3" height="18" fill="#fff"/><rect x="324.3" y="516" width="17.7" height="18" fill="#e8e8fa"/><rect class="bx" x="289" y="516" width="53" height="18"/><text class="lb" x="311" y="527.5">PIAS3</text></g>
<g id="PIAS1"><rect x="324" y="553" width="18" height="22" fill="#fdeeee"/><rect x="342" y="553" width="18" height="22" fill="#fbe0e0"/><rect x="360" y="553" width="18" height="22" fill="#f6b8b8"/><rect class="bx" x="324" y="553" width="54" height="22"/><text class="lb" x="349" y="566.5">PIAS1</text><text class="hs" x="370" y="568">#</text><text class="nm" x="375" y="551">23</text></g>
<g id="GAS"><polygon class="tri" points="406,442 406,471 438,456"/><text class="tt" x="417" y="459">GAS</text></g>
<g id="tri-left"><polygon class="tri" points="343,460 343,488 380,473"/></g>
<g id="ISRE"><polygon class="tri" points="528,484 528,513 563,499"/><text class="tt" x="541" y="502">ISRE</text></g>
<g id="NFkB"><polygon class="tri" points="559,586 559,613 597,600"/><text class="tt" x="575" y="603" style="font-style:normal">NFkB</text></g>
<g id="CREB"><polygon class="tri" points="609,584 609,612 647,598"/><text class="tt" x="625" y="601" style="font-style:normal">CREB</text></g>
<g id="tri-right"><polygon class="tri" points="732,523 732,550 772,537"/></g>
<g id="type1-ifns"><ellipse cx="730" cy="30" rx="28" ry="13" fill="#fff" stroke="#9a1a9a" stroke-width="2"/><text x="730" y="34" text-anchor="middle" style="font:bold 10px 'Liberation Sans',Arial,sans-serif;fill:#9a1a9a">Type I IFNs</text></g>
<g id="translation"><ellipse cx="104" cy="594" rx="46" ry="26" fill="#fff" stroke="#c050c0" stroke-width="1.2"/><text x="104" y="593" text-anchor="middle" style="font:bold 8px 'Liberation Sans',Arial,sans-serif;fill:#a030a0">TRANSLATION</text><text x="104" y="601" text-anchor="middle" style="font:bold 8px 'Liberation Sans',Arial,sans-serif;fill:#a030a0">INITIATION</text></g>
</g>

<g id="membrane">
<rect class="mb" x="7.5" y="78" width="910" height="556" rx="9"/>
<rect class="mw" x="7.5" y="78" width="910" height="556" rx="9"/>
</g>

<g id="labels">
<text class="gl" x="392" y="47" textLength="111">Type I IFN Receptor Complex</text>
<text class="gl" x="33" y="159" textLength="52">PI3K complex</text>
<text class="gl" x="141" y="273" textLength="34">mTORC1</text>
<text class="gl" x="326" y="345" textLength="51">GAF complex</text>
<text class="gl" x="533" y="255" textLength="58">ISGF3 complex</text>
<text class="gl" x="414" y="476" textLength="106">Gamma Activated Sequence</text>
<text class="gl" x="534" y="522" textLength="153">Interferon Stimulated Response Element</text>
<text class="bt" x="538" y="52" textLength="57">Trans-Signalling</text>
<text class="bt" x="633" y="141" textLength="113">Negative regulators of IFN signaling</text>
<text class="bt" x="287" y="581" textLength="125">Negative regulators of IFN transcription</text>
</g>
</svg>
